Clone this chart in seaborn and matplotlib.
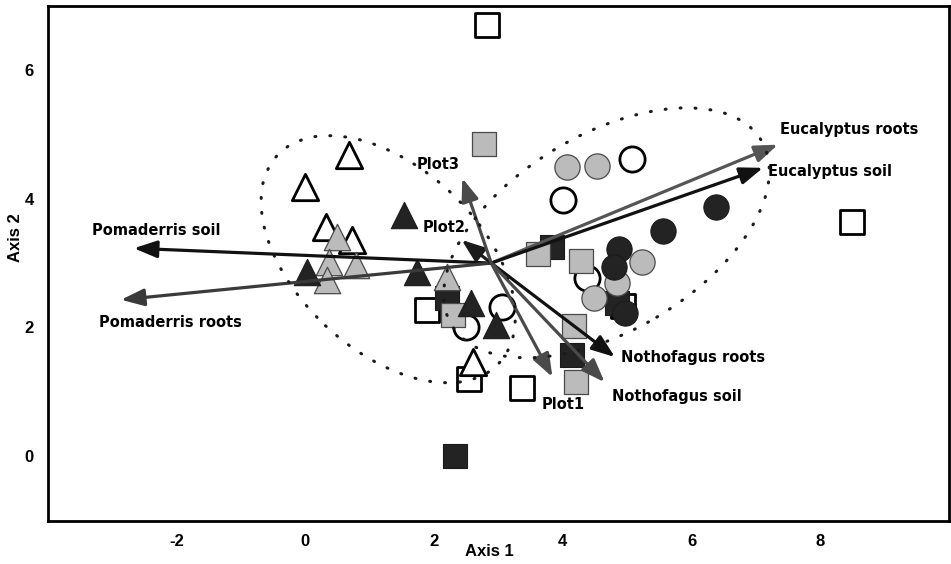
import numpy as np
import pandas as pd
import matplotlib
matplotlib.use("Agg")
import matplotlib.pyplot as plt
from matplotlib.patches import Ellipse
import seaborn as sns

# ---- site scores (Axis 1, Axis 2) by vegetation type and plot shade ----
pom_open_x = [0.68, 0.00, 0.33, 0.72, 2.60]
pom_open_y = [4.68, 4.18, 3.56, 3.36, 1.46]
pom_grey_x = [0.50, 0.37, 0.79, 0.34, 2.21]
pom_grey_y = [3.41, 3.02, 2.97, 2.74, 2.78]
pom_dark_x = [1.54, 0.03, 1.73, 2.57, 2.97]
pom_dark_y = [3.75, 2.86, 2.86, 2.38, 2.04]

euc_open_x = [3.05, 2.50, 5.07, 4.01, 4.37]
euc_open_y = [2.32, 2.01, 4.62, 3.98, 2.77]
euc_grey_x = [4.06, 4.54, 5.23, 4.84, 4.49]
euc_grey_y = [4.49, 4.51, 3.02, 2.69, 2.46]
euc_dark_x = [6.38, 5.55, 4.88, 4.79, 4.96]
euc_dark_y = [3.87, 3.50, 3.22, 2.94, 2.22]

not_open_x = [2.83, 8.49, 1.90, 2.55, 3.37, 4.93]
not_open_y = [6.70, 3.64, 2.27, 1.20, 1.06, 2.33]
not_grey_x = [2.77, 3.62, 4.28, 2.30, 4.17, 4.21]
not_grey_y = [4.85, 3.14, 3.03, 2.19, 2.02, 1.15]
not_dark_x = [3.84, 4.84, 2.21, 4.15, 2.33]
not_dark_y = [3.25, 2.38, 2.46, 1.57, 0.00]

# ---- environmental vectors ----
vec_origin = (2.89, 3.00)
vec_labels = ["Eucalyptus roots", "Eucalyptus soil", "Pomaderris soil",
              "Pomaderris roots", "Nothofagus roots", "Nothofagus soil",
              "Plot1", "Plot2", "Plot3"]
vec_x = [7.34, 7.11, -2.66, -2.86, 4.81, 4.65, 3.84, 2.43, 2.44]
vec_y = [4.84, 4.48, 3.23, 2.43, 1.54, 1.15, 1.23, 3.36, 4.32]
vec_shade = ["#555555", "#111111", "#111111", "#3a3a3a", "#111111",
             "#4a4a4a", "#4a4a4a", "#1a1a1a", "#4a4a4a"]
label_x = [7.37, 7.19, -3.31, -3.20, 4.91, 4.76, 3.67, 1.82, 1.73]
label_y = [5.07, 4.43, 3.50, 2.08, 1.54, 0.92, 0.81, 3.56, 4.53]

# ---- dotted group ellipses: centre, width, height, angle ----
ell_cx = [1.29, 4.68]
ell_cy = [3.06, 3.47]
ell_w = [4.72, 5.60]
ell_h = [2.84, 3.05]
ell_ang = [-43.3, 30.8]

sns.set_style("white")
plt.rcParams["font.family"] = ["Liberation Sans", "DejaVu Sans"]
plt.rcParams["axes.unicode_minus"] = False

fig = plt.figure(figsize=(9.51, 5.64), dpi=100)
ax = fig.add_axes([0.050, 0.0771, 0.948, 0.9129])

OPEN, GREY, DARK = "#ffffff", "#bbbbbb", "#232323"
edge = {OPEN: "#000000", GREY: "#4a4a4a", DARK: "#1a1a1a"}
lw = {OPEN: 2.0, GREY: 0.9, DARK: 0.8}

groups = [
    (not_open_x, not_open_y, "s", OPEN, 300),
    (not_dark_x, not_dark_y, "s", DARK, 300),
    (euc_open_x, euc_open_y, "o", OPEN, 330),
    (euc_grey_x, euc_grey_y, "o", GREY, 330),
    (euc_dark_x, euc_dark_y, "o", DARK, 330),
    (not_grey_x, not_grey_y, "s", GREY, 300),
    (pom_open_x, pom_open_y, "^", OPEN, 360),
    (pom_grey_x, pom_grey_y, "^", GREY, 360),
    (pom_dark_x, pom_dark_y, "^", DARK, 360),
]
for z, (gx, gy, mk, fc, size) in enumerate(groups):
    sns.scatterplot(x=gx, y=gy, marker=mk, color=fc, edgecolor=edge[fc],
                    linewidth=lw[fc], s=size, ax=ax, zorder=3 + z * 0.01,
                    legend=False)

# vectors from the common origin
for lab, tx, ty, c in zip(vec_labels, vec_x, vec_y, vec_shade):
    ax.annotate("", xy=(tx, ty), xytext=vec_origin,
                arrowprops=dict(arrowstyle="-|>,head_length=0.7,head_width=0.26",
                                color=c, lw=2.3, mutation_scale=20,
                                shrinkA=0, shrinkB=0),
                zorder=5)
for lab, lx, ly in zip(vec_labels, label_x, label_y):
    ax.text(lx, ly, lab, ha="left", va="center", fontsize=10.5,
            fontweight="bold", family=["DejaVu Sans"], color="#000000",
            zorder=6)

# dotted ellipses
for cx, cy, w, h, a in zip(ell_cx, ell_cy, ell_w, ell_h, ell_ang):
    e = Ellipse((cx, cy), w, h, angle=a, fill=False, edgecolor="#1a1a1a",
                linewidth=2.2, linestyle=(0, (0.3, 4.6)), zorder=7)
    e.set_capstyle("round")
    ax.add_patch(e)

ax.set_xlim(-4, 10)
ax.set_ylim(-1, 7)
ax.set_xticks([-2, 0, 2, 4, 6, 8])
ax.set_yticks([0, 2, 4, 6])
for sp in ax.spines.values():
    sp.set_visible(True)
    sp.set_color("#000000")
    sp.set_linewidth(2.0)
ax.tick_params(axis="both", direction="out", length=6, width=1.6,
               color="#000000", labelcolor="#000000", labelsize=12, pad=4)
for t in ax.get_xticklabels() + ax.get_yticklabels():
    t.set_fontweight("bold")
ax.set_xlabel("Axis 1", fontsize=12, fontweight="bold", color="#000000")
ax.set_ylabel("Axis 2", fontsize=12, fontweight="bold", color="#000000")
ax.xaxis.set_label_coords(0.49, -0.045)
ax.yaxis.set_label_coords(-0.027, 0.55)

fig.savefig("out.png", dpi=100)
